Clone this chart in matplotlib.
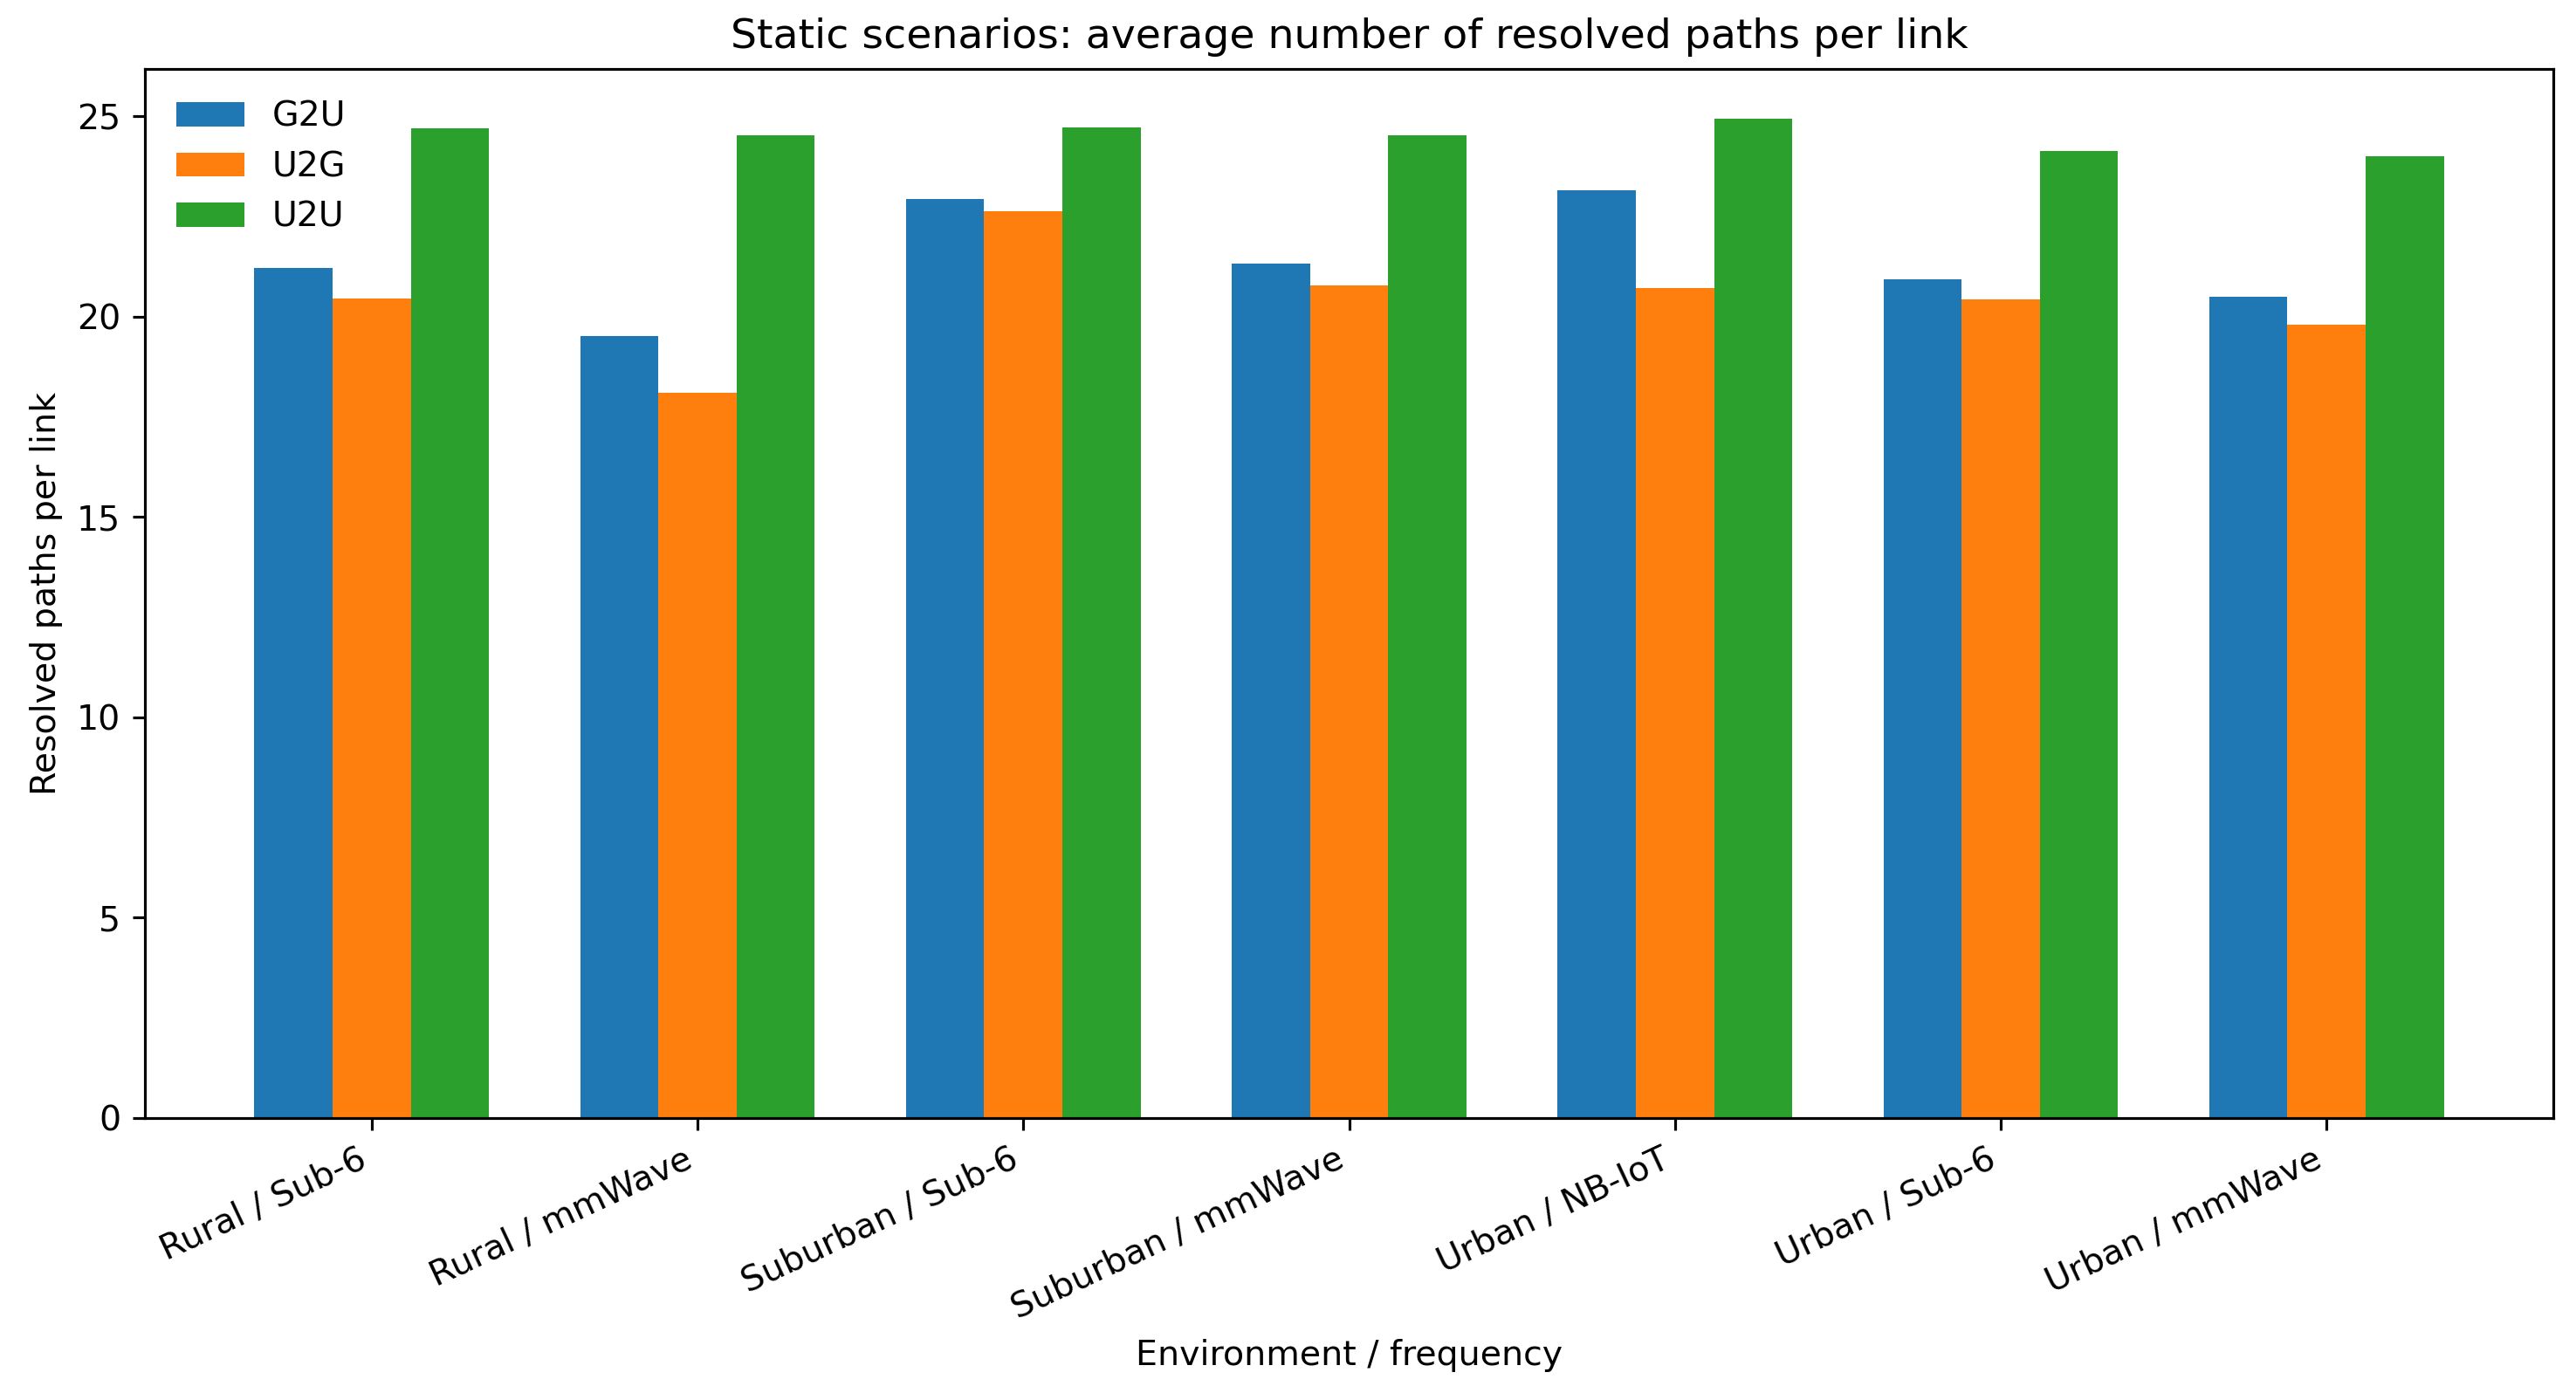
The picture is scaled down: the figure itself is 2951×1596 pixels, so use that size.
import matplotlib
matplotlib.use("Agg")
import matplotlib.pyplot as plt
import numpy as np

categories = ["Rural / Sub-6", "Rural / mmWave", "Suburban / Sub-6", "Suburban / mmWave",
              "Urban / NB-IoT", "Urban / Sub-6", "Urban / mmWave"]
g2u = [21.22, 19.53, 22.94, 21.33, 23.16, 20.94, 20.51]
u2g = [20.46, 18.11, 22.64, 20.79, 20.72, 20.44, 19.81]
u2u = [24.70, 24.53, 24.72, 24.53, 24.94, 24.14, 24.01]
series = [("G2U", g2u), ("U2G", u2g), ("U2U", u2u)]

W, H = 2951, 1596
dpi = 284
fig = plt.figure(figsize=(W / dpi, H / dpi), dpi=dpi)
ax = fig.add_axes([166 / W, 1 - 1281 / H, (2925 - 166) / W, (1281 - 79) / H])

x = np.arange(len(categories))
width = 0.24
for i, (name, vals) in enumerate(series):
    ax.bar(x + (i - 1) * width, vals, width, label=name)

ax.set_xticks(x)
ax.set_xticklabels(categories, rotation=25, ha="right")
ax.set_xlabel("Environment / frequency")
ax.set_ylabel("Resolved paths per link")
ax.set_title("Static scenarios: average number of resolved paths per link")
ax.legend(loc="upper left", frameon=False)

fig.savefig("out.png", dpi=dpi)
